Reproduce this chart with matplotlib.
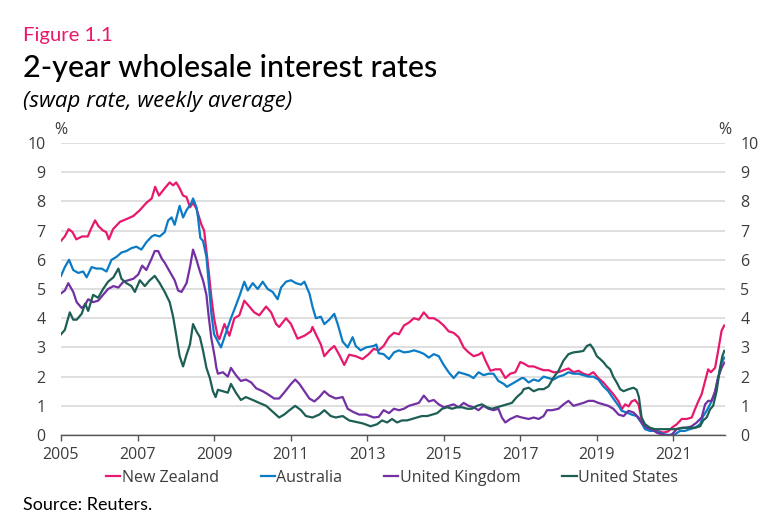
import matplotlib
matplotlib.use("Agg")
import matplotlib.pyplot as plt

# --- data (decimal year, % rate) ---
nz_years = [2005.00, 2005.10, 2005.20, 2005.30, 2005.40, 2005.55, 2005.70, 2005.78, 2005.89, 2005.98,
            2006.10, 2006.18, 2006.25, 2006.36, 2006.54, 2006.72, 2006.89, 2007.06, 2007.23, 2007.37,
            2007.46, 2007.56, 2007.71, 2007.84, 2007.93, 2008.01, 2008.10, 2008.19, 2008.28, 2008.37,
            2008.45, 2008.54, 2008.67, 2008.74, 2008.80, 2008.86, 2008.93, 2009.00, 2009.09, 2009.14,
            2009.27, 2009.40, 2009.53, 2009.66, 2009.79, 2009.92, 2010.05, 2010.18, 2010.36, 2010.49,
            2010.62, 2010.70, 2010.88, 2011.01, 2011.18, 2011.36, 2011.53, 2011.57, 2011.66, 2011.79,
            2011.88, 2012.01, 2012.14, 2012.27, 2012.40, 2012.53, 2012.70, 2012.88, 2013.04, 2013.17,
            2013.30, 2013.43, 2013.57, 2013.70, 2013.83, 2013.96, 2014.09, 2014.22, 2014.35, 2014.48,
            2014.61, 2014.74, 2014.87, 2015.00, 2015.13, 2015.26, 2015.39, 2015.52, 2015.65, 2015.78,
            2015.91, 2016.00, 2016.09, 2016.22, 2016.35, 2016.48, 2016.61, 2016.74, 2016.87, 2017.00,
            2017.09, 2017.22, 2017.35, 2017.48, 2017.61, 2017.74, 2017.87, 2018.00, 2018.13, 2018.26,
            2018.39, 2018.52, 2018.65, 2018.78, 2018.91, 2019.04, 2019.17, 2019.30, 2019.43, 2019.57,
            2019.65, 2019.74, 2019.83, 2019.91, 2020.00, 2020.09, 2020.16, 2020.24, 2020.35, 2020.48,
            2020.61, 2020.74, 2020.87, 2020.96, 2021.09, 2021.22, 2021.35, 2021.48, 2021.57, 2021.65,
            2021.74, 2021.83, 2021.91, 2021.98, 2022.09, 2022.17, 2022.26, 2022.33]
nz_rates = [6.65, 6.80, 7.05, 6.95, 6.70, 6.80, 6.80, 7.05, 7.35, 7.15,
            7.00, 6.95, 6.70, 7.05, 7.30, 7.40, 7.50, 7.70, 7.95, 8.10,
            8.50, 8.20, 8.45, 8.65, 8.55, 8.65, 8.45, 8.20, 8.15, 7.80,
            7.95, 7.75, 7.20, 7.00, 6.30, 5.60, 4.70, 4.00, 3.40, 3.28,
            3.80, 3.40, 4.00, 4.10, 4.60, 4.40, 4.20, 4.10, 4.40, 4.20,
            3.80, 3.70, 4.00, 3.80, 3.30, 3.40, 3.55, 3.70, 3.45, 3.10,
            2.70, 2.90, 3.05, 2.75, 2.40, 2.75, 2.70, 2.60, 2.77, 2.95,
            2.90, 3.05, 3.35, 3.50, 3.45, 3.75, 3.85, 4.00, 3.95, 4.20,
            4.00, 4.00, 3.90, 3.75, 3.55, 3.50, 3.35, 3.00, 2.83, 2.70,
            2.75, 2.83, 2.55, 2.20, 2.25, 2.25, 1.95, 2.10, 2.15, 2.50,
            2.45, 2.35, 2.35, 2.28, 2.22, 2.22, 2.15, 2.15, 2.22, 2.28,
            2.15, 2.20, 2.10, 2.05, 2.15, 1.95, 1.80, 1.60, 1.40, 1.15,
            0.88, 1.05, 0.98, 1.15, 1.20, 1.05, 0.60, 0.30, 0.20, 0.20,
            0.13, 0.08, 0.13, 0.25, 0.37, 0.55, 0.55, 0.60, 0.90, 1.15,
            1.40, 1.85, 2.25, 2.15, 2.30, 2.88, 3.57, 3.75]

au_years = [2005.00, 2005.10, 2005.21, 2005.32, 2005.45, 2005.58, 2005.67, 2005.80, 2005.93, 2006.06,
            2006.19, 2006.32, 2006.45, 2006.58, 2006.71, 2006.84, 2006.97, 2007.10, 2007.23, 2007.37,
            2007.45, 2007.58, 2007.71, 2007.80, 2007.89, 2007.97, 2008.10, 2008.19, 2008.28, 2008.41,
            2008.45, 2008.54, 2008.58, 2008.64, 2008.71, 2008.80, 2008.86, 2008.93, 2009.00, 2009.18,
            2009.31, 2009.44, 2009.53, 2009.66, 2009.79, 2009.88, 2010.01, 2010.14, 2010.27, 2010.40,
            2010.53, 2010.66, 2010.75, 2010.88, 2011.01, 2011.14, 2011.27, 2011.36, 2011.49, 2011.57,
            2011.66, 2011.79, 2011.88, 2012.01, 2012.14, 2012.23, 2012.36, 2012.49, 2012.62, 2012.70,
            2012.83, 2012.97, 2013.17, 2013.24, 2013.30, 2013.43, 2013.57, 2013.70, 2013.83, 2013.96,
            2014.09, 2014.22, 2014.35, 2014.48, 2014.61, 2014.74, 2014.87, 2015.00, 2015.13, 2015.26,
            2015.39, 2015.52, 2015.65, 2015.78, 2015.91, 2016.04, 2016.17, 2016.30, 2016.43, 2016.57,
            2016.65, 2016.78, 2016.91, 2017.04, 2017.09, 2017.22, 2017.35, 2017.48, 2017.61, 2017.74,
            2017.87, 2018.00, 2018.13, 2018.26, 2018.39, 2018.52, 2018.65, 2018.78, 2018.91, 2019.04,
            2019.17, 2019.30, 2019.43, 2019.57, 2019.65, 2019.78, 2019.91, 2020.04, 2020.16, 2020.26,
            2020.39, 2020.52, 2020.65, 2020.78, 2020.91, 2021.04, 2021.17, 2021.30, 2021.43, 2021.57,
            2021.70, 2021.78, 2021.87, 2021.96, 2022.09, 2022.17, 2022.26, 2022.33]
au_rates = [5.45, 5.75, 6.00, 5.65, 5.55, 5.60, 5.40, 5.75, 5.70, 5.70,
            5.60, 6.00, 6.10, 6.25, 6.30, 6.40, 6.45, 6.35, 6.60, 6.80,
            6.85, 6.80, 6.95, 7.35, 7.45, 7.20, 7.85, 7.45, 7.70, 7.95,
            8.10, 7.80, 7.45, 6.75, 6.65, 6.10, 5.20, 4.15, 3.45, 3.00,
            3.50, 4.00, 4.30, 4.75, 5.25, 4.95, 5.20, 5.00, 5.25, 5.00,
            4.90, 4.65, 5.05, 5.25, 5.30, 5.20, 5.15, 5.25, 4.85, 4.40,
            4.00, 4.05, 3.80, 3.95, 4.15, 3.80, 3.20, 3.00, 3.35, 3.05,
            2.90, 3.00, 3.05, 3.10, 2.80, 2.77, 2.60, 2.83, 2.90, 2.83,
            2.85, 2.90, 2.85, 2.78, 2.65, 2.77, 2.70, 2.40, 2.15, 1.95,
            2.15, 2.10, 2.05, 1.95, 2.15, 2.05, 2.10, 2.10, 1.85, 1.75,
            1.65, 1.75, 1.85, 1.95, 1.95, 1.80, 1.90, 1.85, 2.00, 1.95,
            1.90, 2.00, 2.05, 2.15, 2.10, 2.10, 2.05, 2.00, 2.00, 1.90,
            1.67, 1.50, 1.25, 1.00, 0.83, 0.77, 0.70, 0.65, 0.43, 0.20,
            0.14, 0.14, 0.08, 0.02, 0.00, 0.02, 0.14, 0.14, 0.20, 0.25,
            0.37, 0.65, 0.83, 1.05, 1.45, 1.97, 2.48, 2.65]

uk_years = [2005.00, 2005.10, 2005.19, 2005.32, 2005.41, 2005.54, 2005.63, 2005.71, 2005.84, 2005.97,
            2006.10, 2006.23, 2006.37, 2006.50, 2006.63, 2006.76, 2006.89, 2007.02, 2007.12, 2007.23,
            2007.37, 2007.45, 2007.54, 2007.63, 2007.71, 2007.84, 2007.97, 2008.06, 2008.15, 2008.28,
            2008.37, 2008.45, 2008.54, 2008.63, 2008.71, 2008.80, 2008.86, 2008.93, 2009.02, 2009.06,
            2009.10, 2009.23, 2009.36, 2009.44, 2009.57, 2009.70, 2009.83, 2009.97, 2010.10, 2010.27,
            2010.40, 2010.57, 2010.70, 2010.83, 2011.01, 2011.12, 2011.23, 2011.36, 2011.49, 2011.62,
            2011.75, 2011.88, 2012.01, 2012.18, 2012.36, 2012.49, 2012.62, 2012.79, 2012.97, 2013.17,
            2013.30, 2013.43, 2013.57, 2013.70, 2013.83, 2013.96, 2014.09, 2014.22, 2014.35, 2014.48,
            2014.61, 2014.74, 2014.87, 2015.00, 2015.13, 2015.26, 2015.39, 2015.52, 2015.65, 2015.78,
            2015.91, 2016.04, 2016.17, 2016.30, 2016.43, 2016.52, 2016.61, 2016.74, 2016.91, 2017.04,
            2017.22, 2017.35, 2017.48, 2017.61, 2017.70, 2017.83, 2018.00, 2018.13, 2018.26, 2018.39,
            2018.52, 2018.65, 2018.78, 2018.91, 2019.04, 2019.17, 2019.30, 2019.43, 2019.57, 2019.70,
            2019.83, 2019.96, 2020.09, 2020.17, 2020.30, 2020.43, 2020.57, 2020.70, 2020.83, 2020.96,
            2021.09, 2021.22, 2021.35, 2021.48, 2021.61, 2021.74, 2021.83, 2021.91, 2022.00, 2022.09,
            2022.17, 2022.26, 2022.33]
uk_rates = [4.85, 4.95, 5.20, 4.90, 4.55, 4.35, 4.45, 4.65, 4.55, 4.60,
            4.80, 5.00, 5.10, 5.05, 5.25, 5.30, 5.35, 5.50, 5.80, 5.65,
            6.05, 6.30, 6.30, 6.05, 5.90, 5.60, 5.30, 4.95, 4.90, 5.20,
            5.75, 6.35, 6.00, 5.60, 5.30, 4.80, 4.05, 3.30, 2.65, 2.30,
            2.10, 2.15, 2.00, 2.30, 2.05, 1.85, 1.90, 1.80, 1.60, 1.50,
            1.40, 1.25, 1.25, 1.45, 1.75, 1.90, 1.75, 1.50, 1.25, 1.15,
            1.30, 1.50, 1.35, 1.25, 1.30, 0.90, 0.80, 0.70, 0.70, 0.60,
            0.62, 0.85, 0.75, 0.90, 0.85, 0.90, 1.00, 1.05, 1.10, 1.35,
            1.15, 1.20, 1.05, 0.95, 1.00, 1.05, 0.95, 1.10, 1.00, 0.95,
            0.85, 1.00, 0.90, 0.85, 0.90, 0.60, 0.43, 0.55, 0.65, 0.60,
            0.55, 0.60, 0.55, 0.65, 0.85, 0.85, 0.90, 1.05, 1.17, 1.00,
            1.05, 1.10, 1.17, 1.17, 1.10, 1.05, 1.00, 0.90, 0.70, 0.65,
            0.83, 0.77, 0.60, 0.43, 0.25, 0.20, 0.08, 0.02, -0.03, 0.02,
            0.20, 0.25, 0.25, 0.30, 0.43, 0.60, 1.05, 1.17, 1.17, 1.50,
            1.97, 2.30, 2.48]

us_years = [2005.00, 2005.10, 2005.23, 2005.32, 2005.41, 2005.54, 2005.63, 2005.71, 2005.84, 2005.97,
            2006.10, 2006.23, 2006.37, 2006.50, 2006.58, 2006.71, 2006.84, 2006.93, 2007.06, 2007.19,
            2007.32, 2007.45, 2007.58, 2007.71, 2007.84, 2007.93, 2008.02, 2008.10, 2008.19, 2008.28,
            2008.37, 2008.45, 2008.54, 2008.63, 2008.71, 2008.80, 2008.89, 2008.97, 2009.04, 2009.10,
            2009.23, 2009.36, 2009.44, 2009.57, 2009.70, 2009.83, 2010.01, 2010.18, 2010.36, 2010.53,
            2010.70, 2010.83, 2010.97, 2011.12, 2011.27, 2011.40, 2011.57, 2011.75, 2011.88, 2012.05,
            2012.18, 2012.36, 2012.53, 2012.70, 2012.88, 2013.09, 2013.26, 2013.39, 2013.52, 2013.65,
            2013.78, 2013.91, 2014.04, 2014.17, 2014.30, 2014.43, 2014.57, 2014.70, 2014.83, 2014.96,
            2015.09, 2015.22, 2015.35, 2015.48, 2015.61, 2015.74, 2015.87, 2016.00, 2016.13, 2016.26,
            2016.39, 2016.52, 2016.65, 2016.78, 2016.91, 2017.04, 2017.09, 2017.22, 2017.35, 2017.48,
            2017.61, 2017.74, 2017.87, 2018.00, 2018.13, 2018.26, 2018.39, 2018.52, 2018.65, 2018.74,
            2018.83, 2018.91, 2019.00, 2019.09, 2019.17, 2019.26, 2019.35, 2019.43, 2019.52, 2019.61,
            2019.70, 2019.83, 2019.96, 2020.04, 2020.10, 2020.17, 2020.26, 2020.39, 2020.52, 2020.78,
            2021.04, 2021.30, 2021.57, 2021.70, 2021.78, 2021.87, 2021.96, 2022.04, 2022.13, 2022.22,
            2022.28, 2022.33]
us_rates = [3.45, 3.60, 4.20, 3.95, 3.95, 4.15, 4.50, 4.25, 4.80, 4.70,
            5.00, 5.25, 5.40, 5.70, 5.35, 5.20, 5.10, 4.90, 5.30, 5.10,
            5.30, 5.45, 5.20, 4.90, 4.55, 4.05, 3.35, 2.70, 2.35, 2.75,
            3.10, 3.80, 3.55, 3.35, 2.90, 2.30, 1.95, 1.50, 1.30, 1.55,
            1.50, 1.45, 1.75, 1.45, 1.20, 1.30, 1.20, 1.10, 1.00, 0.80,
            0.60, 0.70, 0.85, 1.00, 0.85, 0.65, 0.60, 0.70, 0.85, 0.65,
            0.60, 0.65, 0.50, 0.45, 0.40, 0.30, 0.37, 0.50, 0.43, 0.55,
            0.43, 0.50, 0.50, 0.55, 0.60, 0.65, 0.65, 0.70, 0.75, 0.90,
            0.95, 0.90, 0.95, 0.95, 0.90, 0.90, 1.00, 1.05, 0.95, 0.90,
            0.95, 1.00, 1.05, 1.10, 1.30, 1.45, 1.57, 1.62, 1.50, 1.57,
            1.57, 1.67, 1.97, 2.20, 2.55, 2.77, 2.83, 2.85, 2.88, 3.05,
            3.10, 2.95, 2.70, 2.60, 2.50, 2.35, 2.25, 2.00, 1.80, 1.57,
            1.50, 1.57, 1.62, 1.55, 1.30, 0.60, 0.37, 0.25, 0.20, 0.20,
            0.20, 0.25, 0.25, 0.30, 0.50, 0.60, 0.88, 1.00, 1.50, 2.30,
            2.70, 2.88]

series_names = ["New Zealand", "Australia", "United Kingdom", "United States"]
series_colors = ["#E8186C", "#0A7BC4", "#7330A2", "#1D5F55"]
year_ticks = [2005, 2007, 2009, 2011, 2013, 2015, 2017, 2019, 2021]
rate_ticks = list(range(0, 11))

head_font = ["Lato", "DejaVu Sans"]
body_font = ["Open Sans", "DejaVu Sans"]
text_grey = "#3c3c3c"

fig = plt.figure(figsize=(7.78, 5.24), dpi=100)
ax = fig.add_axes([0.0784, 0.1698, 0.8535, 0.5573])

all_series = [(nz_years, nz_rates), (au_years, au_rates), (uk_years, uk_rates), (us_years, us_rates)]
for (xs, ys), name, col in zip(all_series, series_names, series_colors):
    ax.plot(xs, ys, color=col, lw=1.6, label=name, solid_joinstyle="round")

ax.set_xlim(2005, 2022.35)
ax.set_ylim(0, 10)
ax.set_xticks(year_ticks)
ax.set_xticklabels([str(y) for y in year_ticks], fontfamily=body_font)
ax.set_yticks(rate_ticks)
ax.set_yticklabels([str(v) for v in rate_ticks], fontfamily=body_font)
ax.grid(axis="y", color="#d9d9d9", lw=1.2)
ax.set_axisbelow(True)
for side in ["top", "left", "right"]:
    ax.spines[side].set_visible(False)
ax.spines["bottom"].set_color("#555555")
ax.spines["bottom"].set_linewidth(1.0)
ax.tick_params(axis="x", direction="out", length=4.5, width=1, color="#555555",
               labelsize=11.5, labelcolor=text_grey, pad=4)
ax.tick_params(axis="y", length=0, labelsize=11.5, labelcolor=text_grey,
               labelleft=True, labelright=True, pad=11)

fig.text(61 / 778, 1 - 130 / 524, "%", ha="center", va="center", fontsize=11.5,
         color=text_grey, family=body_font)
fig.text(725 / 778, 1 - 130 / 524, "%", ha="center", va="center", fontsize=11.5,
         color=text_grey, family=body_font)

fig.text(23 / 778, 1 - 41 / 524, "Figure 1.1", ha="left", va="baseline", fontsize=14.6,
         color="#E8186C", family=head_font)
fig.text(23 / 778, 1 - 77 / 524, "2-year wholesale interest rates", ha="left", va="baseline",
         fontsize=22, color="black", family=head_font, weight=500)
fig.text(23 / 778, 1 - 106.5 / 524, "(swap rate, weekly average)", ha="left", va="baseline",
         fontsize=16, color="black", family=body_font, style="italic")
fig.text(23 / 778, 1 - 510 / 524, "Source: Reuters.", ha="left", va="baseline", fontsize=13,
         color="black", family=head_font)

fig.legend(loc="center", bbox_to_anchor=(0.504, 1 - 478 / 524), ncol=4, frameon=False,
           handlelength=0.9, handletextpad=0.1, columnspacing=2.6,
           prop={"family": body_font, "size": 11.5}, labelcolor=text_grey)

fig.savefig("out.png", dpi=100)
